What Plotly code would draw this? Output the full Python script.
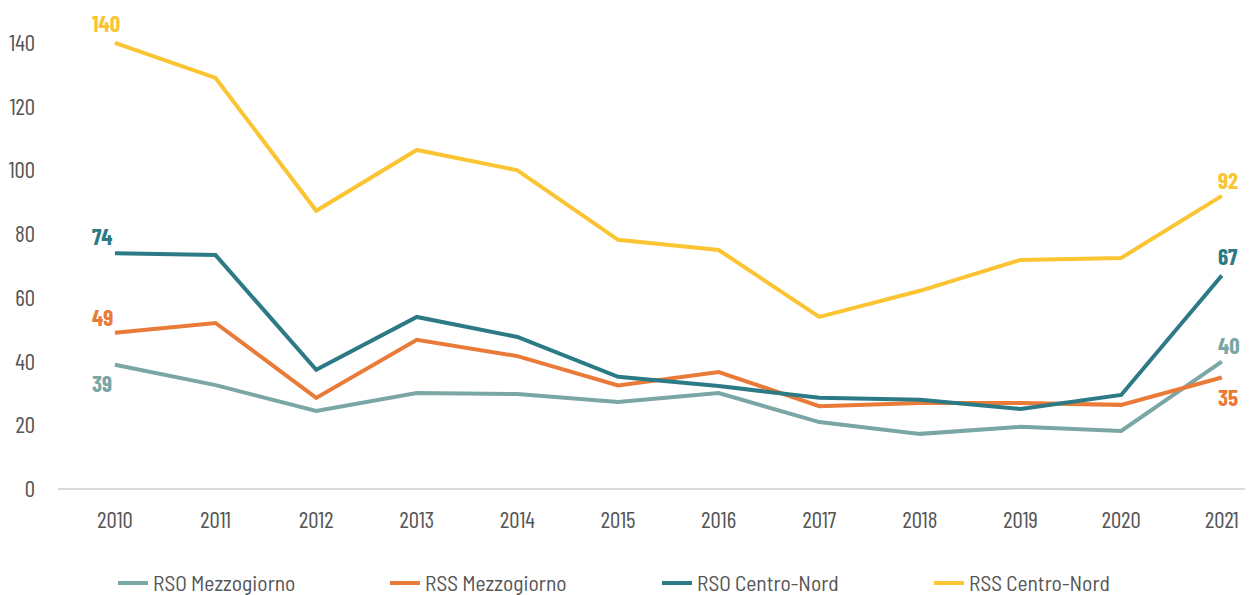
import plotly.graph_objects as go

years = [2010, 2011, 2012, 2013, 2014, 2015, 2016, 2017, 2018, 2019, 2020, 2021]
rso_mezzogiorno = [39, 32.6, 24.5, 30.1, 29.8, 27.3, 30.1, 21.0, 17.3, 19.5, 18.2, 40]
rss_mezzogiorno = [49, 52.1, 28.6, 46.8, 41.7, 32.5, 36.7, 26.0, 27.0, 27.0, 26.4, 35]
rso_centro_nord = [74, 73.4, 37.4, 54.0, 47.7, 35.2, 32.3, 28.6, 28.0, 25.1, 29.5, 67]
rss_centro_nord = [140, 129, 87.3, 106.4, 100, 78.2, 75, 54, 62.2, 71.9, 72.5, 92]

series_names = ["RSO Mezzogiorno", "RSS Mezzogiorno", "RSO Centro-Nord", "RSS Centro-Nord"]
series_values = [rso_mezzogiorno, rss_mezzogiorno, rso_centro_nord, rss_centro_nord]
colors = ["#7AA6A5", "#EA7A38", "#2B7A85", "#FAC433"]
y_ticks = [0, 20, 40, 60, 80, 100, 120, 140]

FONT = "Barlow Condensed, Barlow Semi Condensed, Roboto Condensed, sans-serif"
LEGEND_FONT = "Barlow Semi Condensed, Barlow Condensed, Roboto Condensed, sans-serif"

fig = go.Figure()
for name, vals, col in zip(series_names, series_values, colors):
    fig.add_trace(go.Scatter(x=years, y=vals, name=name, mode="lines",
                             line=dict(color=col, width=4), hoverinfo="x+y+name"))

# end labels: (series index, point index, vertical shift)
label_spec = [
    (3, 0, 20), (2, 0, 17), (1, 0, 16), (0, 0, -18),
    (3, -1, 16), (2, -1, 19), (0, -1, 17), (1, -1, -20),
]
for si, pi, dy in label_spec:
    v = series_values[si][pi]
    fig.add_annotation(x=years[pi], y=v, text=f"<b>{round(v)}</b>", showarrow=False,
                       xanchor="left", yanchor="middle",
                       yshift=dy, xshift=-25 if pi == 0 else -6,
                       font=dict(family=FONT, size=23, color=colors[si]))

# the page body adds an 8px offset, so the figure is sized to fit the window
fig.update_layout(
    width=1245, height=587,
    margin=dict(l=50, r=0, t=3, b=106, autoexpand=False),
    plot_bgcolor="white", paper_bgcolor="white",
    font=dict(family=FONT, size=23, color="#555555"),
    showlegend=True,
    legend=dict(orientation="h", x=0.046, xanchor="left", y=-0.154, yanchor="top",
                entrywidth=227, entrywidthmode="pixels", itemwidth=30,
                font=dict(family=LEGEND_FONT, size=21.5, color="#555555")),
    xaxis=dict(range=[2009.434, 2021.31], tickmode="array", tickvals=years,
               ticktext=[str(y) for y in years], showgrid=False, zeroline=False,
               showline=False, ticks="", ticklabelstandoff=15, automargin=False),
    yaxis=dict(range=[0, 150], tickmode="array", tickvals=y_ticks,
               showgrid=False, zeroline=True, zerolinecolor="#D9D9D9", zerolinewidth=1.5,
               showline=False, ticks="", ticklabelstandoff=22, automargin=False),
)

fig.write_html("out.html")
